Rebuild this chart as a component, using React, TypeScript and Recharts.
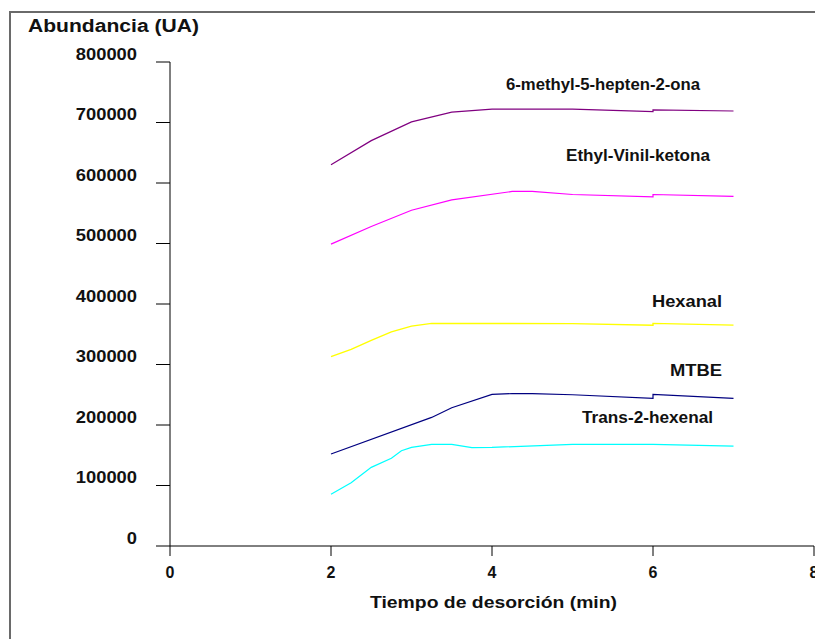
import React from 'react';
import { LineChart, Line, XAxis, YAxis } from 'recharts';

const xTicks = [0, 2, 4, 6, 8];
const yTicks = [0, 100000, 200000, 300000, 400000, 500000, 600000, 700000, 800000];

const methylX = [2, 2.5, 3, 3.5, 4, 5, 6, 6, 7];
const methylY = [630000, 670000, 701000, 717000, 722000, 722000, 718000, 721000, 719000];

const ethylX = [2, 2.5, 3, 3.5, 4.25, 4.5, 5, 6, 6, 7];
const ethylY = [499000, 528000, 555000, 572000, 586000, 586000, 581000, 577000, 581000, 578000];

const hexanalX = [2, 2.25, 2.5, 2.75, 3, 3.25, 5, 6, 6, 7];
const hexanalY = [313000, 325000, 340000, 354000, 363500, 368000, 367500, 365000, 368000, 365000];

const mtbeX = [2, 3.25, 3.5, 4, 4.25, 4.5, 5, 6, 6, 7];
const mtbeY = [152000, 212500, 228500, 250500, 252000, 252000, 250000, 244000, 250500, 244000];

const transX = [2, 2.25, 2.5, 2.75, 2.875, 3, 3.25, 3.5, 3.75, 4, 5, 6, 7];
const transY = [85500, 104500, 130000, 145000, 157500, 163000, 168000, 168000, 162500, 163000, 168000, 168000, 165000];

const zip = (xs: number[], ys: number[]) => xs.map((x, i) => ({ x, y: ys[i] }));

const FONT = '"Liberation Sans", Arial, sans-serif';

const YTick = (props: any) => {
  const { y, payload } = props;
  const s = String(payload.value);
  return (
    <text x={129} y={y - 8} dy="0.36em" textAnchor="end" fontFamily={FONT} fontWeight="bold" fontSize={16}
      textLength={s.length * 10.2} lengthAdjust="spacingAndGlyphs" fill="#111">
      {s}
    </text>
  );
};

const XTick = (props: any) => {
  const { x, payload } = props;
  return (
    <text x={x} y={564} dy="0.36em" textAnchor="middle" fontFamily={FONT} fontWeight="bold" fontSize={16} fill="#111">
      {String(payload.value)}
    </text>
  );
};

const labels = [
  { t: '6-methyl-5-hepten-2-ona', x: 506, y: 90, w: 194 },
  { t: 'Ethyl-Vinil-ketona', x: 566, y: 161, w: 144 },
  { t: 'Hexanal', x: 652, y: 307, w: 70 },
  { t: 'MTBE', x: 670, y: 376, w: 52 },
  { t: 'Trans-2-hexenal', x: 582, y: 423, w: 131 },
];

export default function App() {
  return (
    <div style={{ position: 'relative', width: 815, height: 631, overflow: 'hidden', background: '#fff' }}>
      <div style={{ position: 'absolute', left: 1, top: 3, width: 1000, height: 1000, borderTop: '2px solid #6a6a6a', borderLeft: '2px solid #6a6a6a' }} />
      <div style={{ position: 'absolute', left: 0, top: 0 }}>
        <LineChart width={815} height={631} margin={{ top: 54, right: 9, bottom: 53, left: 0 }}>
          <XAxis type="number" dataKey="x" domain={[0, 8]} ticks={xTicks} tickSize={10} height={40}
            axisLine={{ stroke: '#000' }} tickLine={{ stroke: '#000' }} tick={<XTick />} allowDuplicatedCategory={false} />
          <YAxis type="number" domain={[0, 800000]} ticks={yTicks} tickSize={14} width={162}
            axisLine={{ stroke: '#000' }} tickLine={{ stroke: '#000' }} tick={<YTick />} />
          <Line data={zip(methylX, methylY)} dataKey="y" stroke="#800080" strokeWidth={1.2} dot={false} isAnimationActive={false} />
          <Line data={zip(ethylX, ethylY)} dataKey="y" stroke="#ff00ff" strokeWidth={1.2} dot={false} isAnimationActive={false} />
          <Line data={zip(hexanalX, hexanalY)} dataKey="y" stroke="#ffff00" strokeWidth={1.4} dot={false} isAnimationActive={false} />
          <Line data={zip(mtbeX, mtbeY)} dataKey="y" stroke="#000080" strokeWidth={1.2} dot={false} isAnimationActive={false} />
          <Line data={zip(transX, transY)} dataKey="y" stroke="#00ffff" strokeWidth={1.2} dot={false} isAnimationActive={false} />
        </LineChart>
      </div>
      <svg width={815} height={631} style={{ position: 'absolute', left: 0, top: 0, pointerEvents: 'none' }}>
        <text x={20} y={24} fontFamily={FONT} fontWeight="bold" fontSize={18} fill="#111" textLength={171} lengthAdjust="spacingAndGlyphs">
          Abundancia (UA)
        </text>
        <text x={362} y={600} fontFamily={FONT} fontWeight="bold" fontSize={17} fill="#111" textLength={247} lengthAdjust="spacingAndGlyphs">
          Tiempo de desorción (min)
        </text>
        {labels.map((l) => (
          <text key={l.t} x={l.x - 8} y={l.y - 8} fontFamily={FONT} fontWeight="bold" fontSize={16} fill="#111"
            textLength={l.w} lengthAdjust="spacingAndGlyphs">
            {l.t}
          </text>
        ))}
      </svg>
    </div>
  );
}
